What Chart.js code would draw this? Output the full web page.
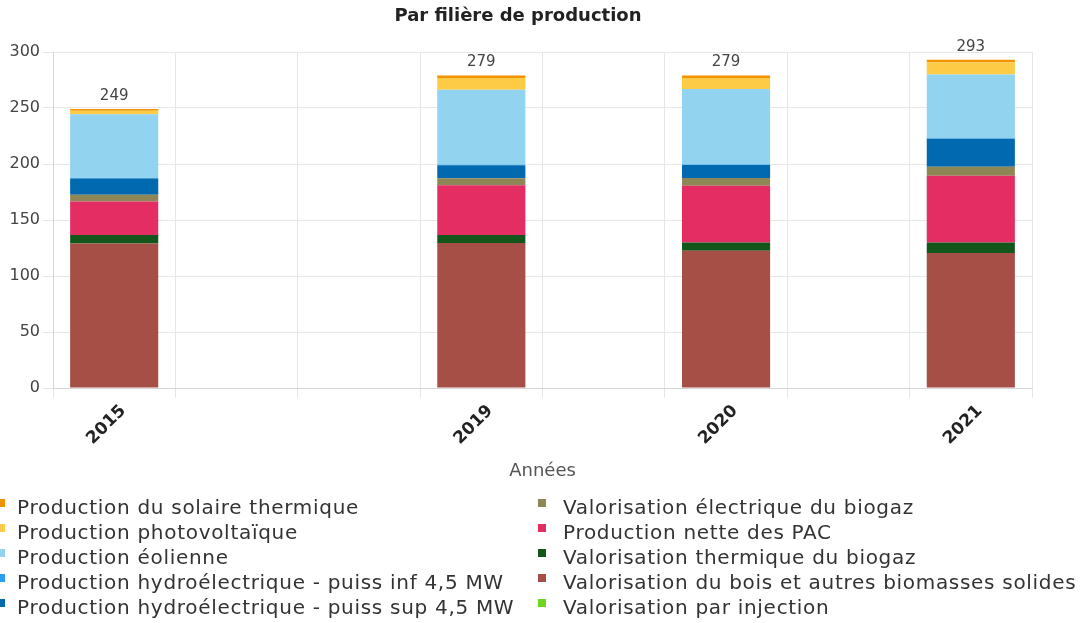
<!DOCTYPE html>
<html>
<head>
<meta charset="utf-8">
<script src="https://cdn.jsdelivr.net/npm/chart.js@4"></script>
<style>
  html, body { margin: 0; padding: 0; background: #fff; }
  #chart { display: block; }
</style>
</head>
<body>
<canvas id="chart" width="1081" height="623"></canvas>
<script>
// Categories (empty slots kept as in the source chart)
const years = ['2015', '', '', '2019', '', '2020', '', '2021'];

// Series values, in legend order
const solaireThermique = [1.5, null, null, 2.2, null, 2.2, null, 2.2];
const photovoltaique   = [3, null, null, 10.5, null, 9.8, null, 10.8];
const eolienne         = [57, null, null, 67, null, 67.5, null, 57];
const hydroInf         = [0.5, null, null, 0.5, null, 0.5, null, 0.5];
const hydroSup         = [14.5, null, null, 11.5, null, 11.5, null, 25];
const biogazElec       = [6, null, null, 6.3, null, 7, null, 8];
const pacNette         = [30, null, null, 44.5, null, 50.5, null, 59.5];
const biogazThermique  = [7.5, null, null, 7, null, 7.5, null, 9.5];
const boisBiomasse     = [129, null, null, 129.5, null, 122.5, null, 120.5];
const injection        = [0, null, null, 0, null, 0, null, 0];

const seriesNames = [
    'Production du solaire thermique',
    'Production photovoltaïque',
    'Production éolienne',
    'Production hydroélectrique - puiss inf 4,5 MW',
    'Production hydroélectrique - puiss sup 4,5 MW',
    'Valorisation électrique du biogaz',
    'Production nette des PAC',
    'Valorisation thermique du biogaz',
    'Valorisation du bois et autres biomasses solides',
    'Valorisation par injection'
];
const seriesValues = [solaireThermique, photovoltaique, eolienne, hydroInf, hydroSup,
    biogazElec, pacNette, biogazThermique, boisBiomasse, injection];
const seriesColors = ['#f39200', '#fecb46', '#92d3f0', '#2ba0f2', '#0069b0',
    '#8e8654', '#e32d63', '#12561c', '#a64f47', '#6fd61c'];

const FONT = "'DejaVu Sans', sans-serif";

// stacked bottom-up: last legend entry sits at the bottom
const datasets = seriesNames.map((name, i) => ({
    label: name,
    data: seriesValues[i],
    backgroundColor: seriesColors[i],
    borderWidth: 0,
    stack: 'prod'
})).reverse();

const totalsPlugin = {
    id: 'totals',
    afterDatasetsDraw(chart) {
        const ctx = chart.ctx;
        const x = chart.scales.x, y = chart.scales.y;
        ctx.save();
        ctx.font = '15px ' + FONT;
        ctx.fillStyle = '#444';
        ctx.textAlign = 'center';
        ctx.textBaseline = 'middle';
        years.forEach((yr, i) => {
            let sum = 0;
            chart.data.datasets.forEach(ds => { sum += ds.data[i] || 0; });
            if (!sum) return;
            ctx.fillText(Math.round(sum), x.getPixelForValue(i), y.getPixelForValue(sum) - 13);
        });
        ctx.restore();
    }
};

const titleLegendPlugin = {
    id: 'titleLegend',
    afterDraw(chart) {
        const ctx = chart.ctx;
        ctx.save();
        // title
        ctx.font = 'bold 18px ' + FONT;
        ctx.fillStyle = '#222';
        ctx.textAlign = 'center';
        ctx.textBaseline = 'middle';
        ctx.fillText('Par filière de production', 518, 16);

        // legend, two columns
        ctx.font = '20px ' + FONT;
        ctx.letterSpacing = '0.7px';
        ctx.textAlign = 'left';
        seriesNames.forEach((name, i) => {
            const col = Math.floor(i / 5), row = i % 5;
            const markX = col ? 538 : -3;
            const textX = col ? 563 : 17;
            const cy = 509 + row * 25;
            ctx.fillStyle = seriesColors[i];
            ctx.fillRect(markX, cy - 10, 8, 8);
            ctx.fillStyle = '#333';
            ctx.fillText(name, textX, cy);
        });
        ctx.restore();
    }
};

new Chart(document.getElementById('chart'), {
    type: 'bar',
    data: { labels: years, datasets: datasets },
    options: {
        responsive: false,
        animation: false,
        layout: { padding: { top: 52, right: 49, left: 0, bottom: 140 } },
        categoryPercentage: 0.8,
        barPercentage: 0.9,
        plugins: {
            legend: { display: false },
            tooltip: { enabled: false }
        },
        scales: {
            x: {
                stacked: true,
                grid: { color: '#e6e6e6', tickLength: 10, offset: true },
                border: { color: '#d6d6d6' },
                ticks: {
                    autoSkip: false,
                    minRotation: 45,
                    maxRotation: 45,
                    labelOffset: 9,
                    color: '#222',
                    font: { family: FONT, size: 17, weight: 'bold' }
                },
                title: {
                    display: true,
                    text: 'Années',
                    color: '#555',
                    padding: { top: 4, bottom: 1 },
                    font: { family: FONT, size: 18 }
                },
                afterFit(scale) { scale.height = 95; }
            },
            y: {
                stacked: true,
                min: 0,
                max: 300,
                grid: { color: '#e6e6e6', tickLength: 10 },
                border: { color: '#d6d6d6' },
                ticks: {
                    stepSize: 50,
                    padding: 3,
                    color: '#444',
                    font: { family: FONT, size: 16 }
                },
                afterFit(scale) { scale.width = 53; }
            }
        }
    },
    plugins: [totalsPlugin, titleLegendPlugin]
});
</script>
</body>
</html>
